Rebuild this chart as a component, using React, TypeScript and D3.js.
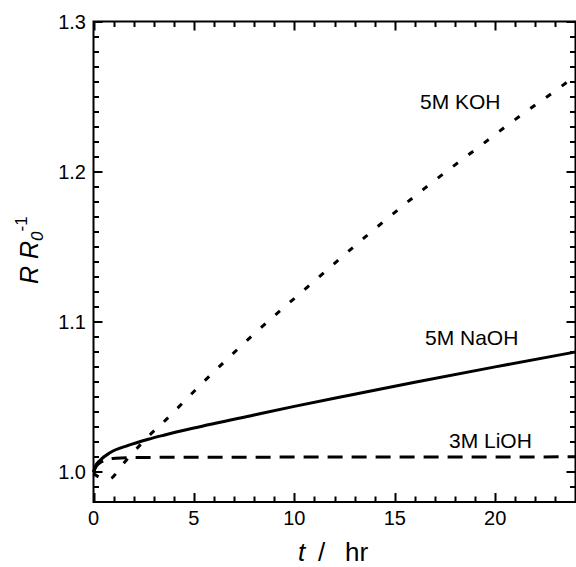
import React, { useEffect, useRef } from 'react'
import * as d3 from 'd3'

// hours
const kohT = [0, 0.4, 0.8, 1.4, 2.07, 2.73, 3.4, 5.39, 8.1, 10.9, 13.69, 16.5, 19.46, 20.84, 23.04, 24]
const kohR = [0.999, 0.996, 0.9955, 1.0043, 1.0143, 1.0237, 1.0321, 1.0588, 1.0932, 1.126, 1.1583, 1.189, 1.2192, 1.2332, 1.2543, 1.2637]

const naohT = [0, 0.1, 0.32, 0.82, 1.73, 2.73, 3.5, 5, 8, 10, 13, 16, 20, 24]
const naohR = [1.0, 1.004, 1.0077, 1.0128, 1.0177, 1.0218, 1.0245, 1.0293, 1.038, 1.0437, 1.0518, 1.0598, 1.07, 1.0799]

const liohT = [0, 0.15, 0.4, 0.7, 1.1, 2, 5, 10, 15, 20, 24]
const liohR = [1.0, 1.004, 1.0068, 1.0085, 1.0092, 1.0096, 1.0098, 1.0099, 1.01, 1.01, 1.0101]

const xMajor = [0, 5, 10, 15, 20]
const yMajor = [1.0, 1.1, 1.2, 1.3]

const W = 576
const H = 567
const left = 93.5, right = 575.5, top = 21.5, bottom = 502

export default function App() {
  const ref = useRef<SVGSVGElement>(null)

  useEffect(() => {
    const svg = d3.select(ref.current)
    svg.selectAll('*').remove()

    const x = d3.scaleLinear().domain([0, 24]).range([left, right])
    const y = d3.scaleLinear().domain([0.98, 1.3]).range([bottom, top])

    const xTicks = d3.range(0, 25, 1)
    const yTicks = d3.range(98, 131, 1).map(v => v / 100)

    const font = 'Liberation Sans, Arial, sans-serif'

    // tick marks, all pointing inward
    let tickPath = ''
    xTicks.forEach(v => {
      const len = v % 5 === 0 ? 9 : 5.5
      const px = Math.round(x(v)) + 0.5
      tickPath += `M${px},${bottom}V${bottom - len}M${px},${top}V${top + len}`
    })
    yTicks.forEach(v => {
      const major = Math.abs(v * 10 - Math.round(v * 10)) < 1e-6
      const len = major ? 9 : 5.5
      const py = Math.round(y(v))
      tickPath += `M${left},${py}H${left + len}M${right},${py}H${right - len}`
    })
    svg.append('path')
      .attr('d', tickPath)
      .attr('fill', 'none')
      .attr('stroke', '#000')
      .attr('stroke-width', 2)

    svg.append('g').selectAll('text').data(xMajor).join('text')
      .attr('x', d => x(d)).attr('y', 525)
      .attr('text-anchor', 'middle')
      .attr('font-size', 20).attr('font-family', font)
      .text(d => d3.format('d')(d))

    svg.append('g').selectAll('text').data(yMajor).join('text')
      .attr('x', 86).attr('y', d => y(d) + 7)
      .attr('text-anchor', 'end')
      .attr('font-size', 20).attr('font-family', font)
      .text(d => d3.format('.1f')(d))

    svg.append('rect')
      .attr('x', left).attr('y', top)
      .attr('width', right - left).attr('height', bottom - top)
      .attr('fill', 'none').attr('stroke', '#000').attr('stroke-width', 2)

    const line = d3.line<[number, number]>()
      .x(d => x(d[0]))
      .y(d => y(d[1]))
      .curve(d3.curveMonotoneX)

    const series = [
      { t: kohT, r: kohR, dash: '6,13.3' },
      { t: naohT, r: naohR, dash: null },
      { t: liohT, r: liohR, dash: '15,9' },
    ]
    series.forEach(s => {
      const pts = s.t.map((t, i) => [t, s.r[i]] as [number, number])
      svg.append('path')
        .attr('d', line(pts))
        .attr('fill', 'none')
        .attr('stroke', '#000')
        .attr('stroke-width', 3)
        .attr('stroke-dasharray', s.dash)
    })

    const labels = [
      { text: '5M KOH', x: 420, y: 109 },
      { text: '5M NaOH', x: 425, y: 345 },
      { text: '3M LiOH', x: 449, y: 448 },
    ]
    labels.forEach(l => {
      svg.append('text')
        .attr('x', l.x).attr('y', l.y)
        .attr('font-size', 21).attr('font-family', font)
        .text(l.text)
    })

    // x axis title
    const xt = svg.append('text')
      .attr('y', 561)
      .attr('font-size', 26).attr('font-family', font)
    xt.append('tspan').attr('x', 298).attr('font-style', 'italic').text('t')
    xt.append('tspan').attr('x', 318).text('/')
    xt.append('tspan').attr('x', 345).text('hr')

    // y axis title
    const yt = svg.append('text')
      .attr('transform', 'translate(38,284) rotate(-90)')
      .attr('font-size', 25).attr('font-family', font)
    yt.append('tspan').attr('font-style', 'italic').text('R R')
    yt.append('tspan').attr('font-style', 'italic').attr('font-size', 17).attr('dy', 5).text('0')
    yt.append('tspan').attr('font-size', 17).attr('dy', -16).text('-1')
  }, [])

  return (
    <svg
      ref={ref}
      width={W}
      height={H}
      style={{ position: 'absolute', left: 0, top: 0, background: '#fff' }}
    />
  )
}
